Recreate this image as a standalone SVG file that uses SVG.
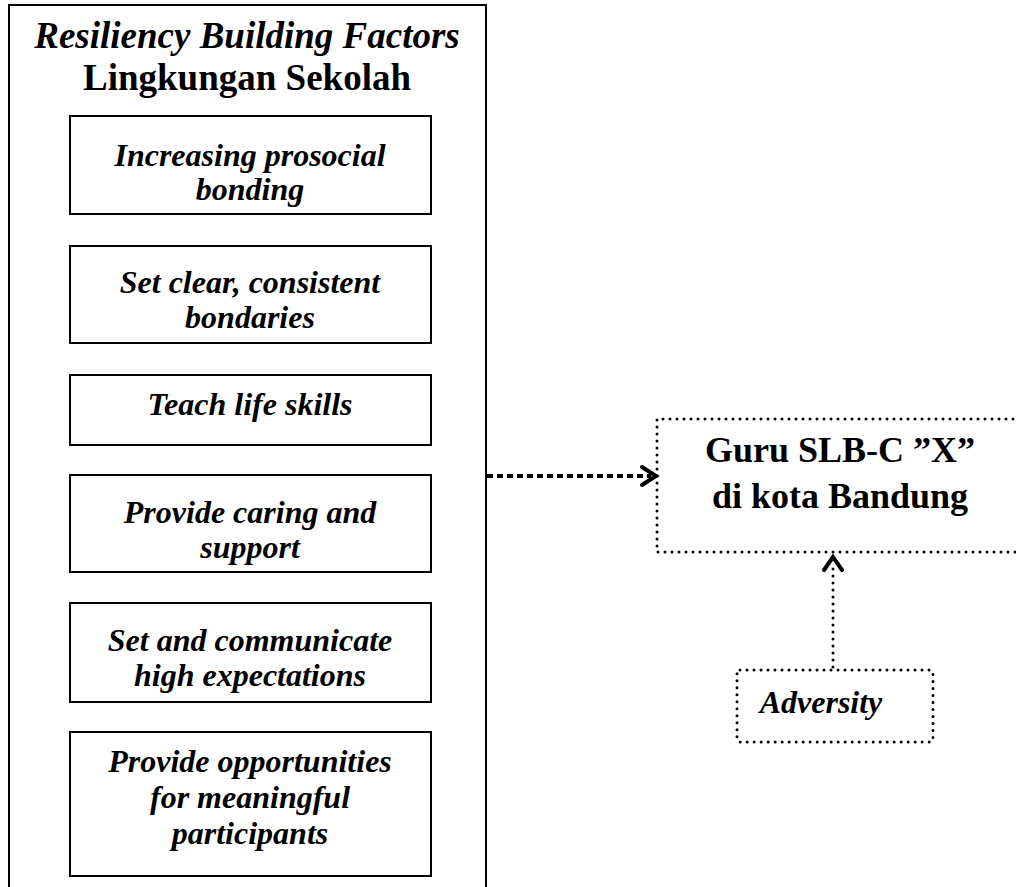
<svg xmlns="http://www.w3.org/2000/svg" width="1016" height="887" viewBox="0 0 1016 887">
<style>
.box{fill:none;stroke:#000;stroke-width:2}
.dot{fill:none;stroke:#000;stroke-width:3;stroke-linecap:round;stroke-dasharray:0 7}
.t{font-family:"Liberation Serif","Times New Roman",serif;font-weight:bold;fill:#000;text-anchor:middle}
.i{font-style:italic}
.s24{font-size:32px}
.s32{font-size:37px}
.s36{font-size:36px}
</style>
<rect width="1016" height="887" fill="#fff"/>
<g id="outer">
<path class="box" d="M9,890 V5 H486 V890"/>
<text class="t i s32" x="247" y="48">Resiliency Building Factors</text>
<text class="t s32" x="247" y="90">Lingkungan Sekolah</text>
</g>
<g id="f1"><rect class="box" x="70" y="116" width="361" height="98"/>
<text class="t i s24" x="250" y="166">Increasing prosocial</text>
<text class="t i s24" x="250" y="200">bonding</text></g>
<g id="f2"><rect class="box" x="70" y="246" width="361" height="97"/>
<text class="t i s24" x="250" y="293">Set clear, consistent</text>
<text class="t i s24" x="250" y="328">bondaries</text></g>
<g id="f3"><rect class="box" x="70" y="375" width="361" height="70"/>
<text class="t i s24" x="250" y="415">Teach life skills</text></g>
<g id="f4"><rect class="box" x="70" y="475" width="361" height="97"/>
<text class="t i s24" x="250" y="523">Provide caring and</text>
<text class="t i s24" x="250" y="558">support</text></g>
<g id="f5"><rect class="box" x="70" y="603" width="361" height="99"/>
<text class="t i s24" x="250" y="651">Set and communicate</text>
<text class="t i s24" x="250" y="686">high expectations</text></g>
<g id="f6"><rect class="box" x="70" y="732" width="361" height="144"/>
<text class="t i s24" x="250" y="772">Provide opportunities</text>
<text class="t i s24" x="250" y="808">for meaningful</text>
<text class="t i s24" x="250" y="844">participants</text></g>
<g id="guru">
<path class="dot" d="M1020,419 H657 V552 H1020"/>
<text class="t s36" x="840" y="462">Guru SLB-C ”X”</text>
<text class="t s36" x="840" y="508">di kota Bandung</text>
</g>
<g id="adversity">
<rect class="dot" x="737" y="670" width="196" height="72" rx="3"/>
<text class="t i s24" x="821" y="713">Adversity</text>
</g>
<g id="connectors">
<path d="M487,476 H651" fill="none" stroke="#000" stroke-width="4" stroke-dasharray="6 4"/>
<path d="M642,467 L656,476 L642,485" fill="none" stroke="#000" stroke-width="4" stroke-linecap="round" stroke-linejoin="miter"/>
<path class="dot" d="M833,667 V568"/>
<path d="M824,570 L833,557 L842,570" fill="none" stroke="#000" stroke-width="4" stroke-linecap="round"/>
</g>
</svg>
